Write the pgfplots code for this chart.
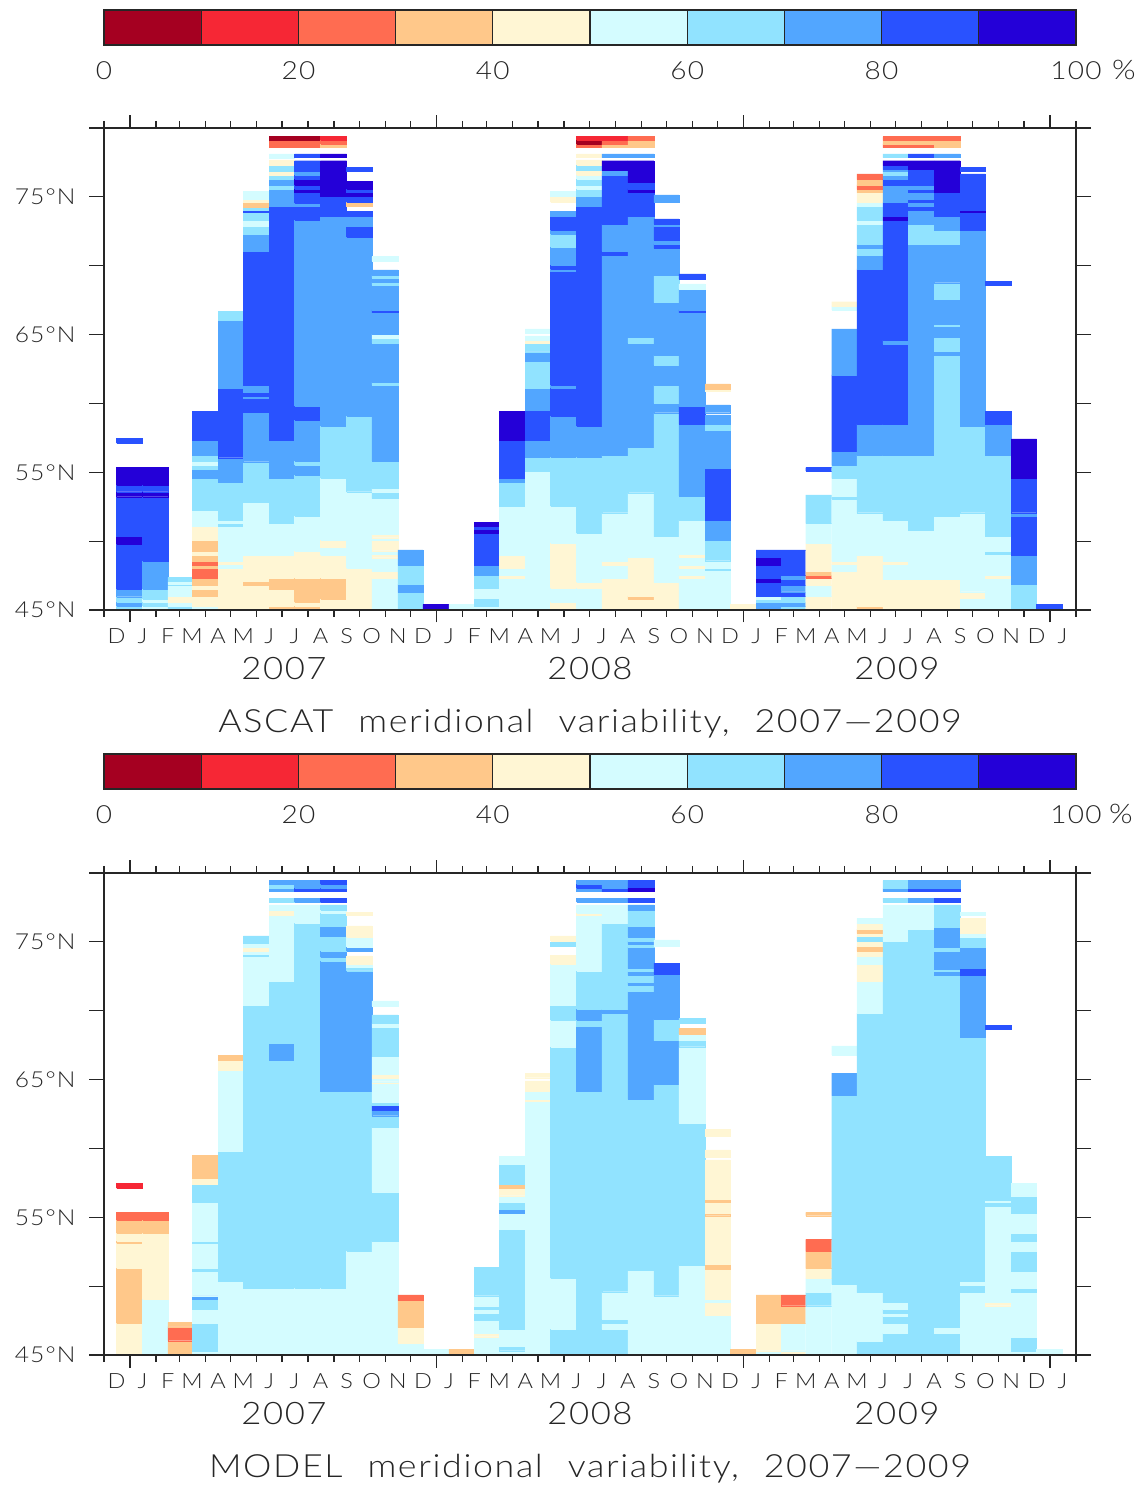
\documentclass[border=0pt]{standalone}
\usepackage{pgfplots}
\pgfplotsset{compat=1.18}
\usepackage{fontspec}
\setmainfont{Liberation Sans}
\newfontfamily\gf{Lato}[UprightFont=* Light,FakeStretch=1.12,LetterSpace=5,WordSpace=2.2]
\definecolor{ink}{HTML}{262626}
\definecolor{c0}{RGB}{165,0,33}
\definecolor{c1}{RGB}{246,39,53}
\definecolor{c2}{RGB}{255,108,81}
\definecolor{c3}{RGB}{255,200,138}
\definecolor{c4}{RGB}{255,246,212}
\definecolor{c5}{RGB}{212,252,255}
\definecolor{c6}{RGB}{145,227,255}
\definecolor{c7}{RGB}{82,166,255}
\definecolor{c8}{RGB}{41,82,255}
\definecolor{c9}{RGB}{36,0,216}
% column edges, days since 1 Dec 2006
\def\Edges{15,46,76,105,136,166,197,227,258,289,319,350,380,411,441,471,502,532,563,593,624,655,685,716,746,777,807,836,867,897,928,958,989,1020,1050,1081,1111,1142}
\makeatletter
\def\Rect#1/#2/#3\relax{%
  \edef\temp{\noexpand\addplot[forget plot,mark=none,fill=c#3,draw=c#3,line width=0.25pt] coordinates {(\xa,#1)(\xb,#1)(\xb,#2)(\xa,#2)(\xa,#1)};}\temp}
\newcommand\Col[2]{%
  \pgfmathsetmacro\xa{{\Edges}[#1]}%
  \pgfmathsetmacro\xb{{\Edges}[#1+1]}%
  \pgfplotsforeachungrouped \rr in {#2}{\expandafter\Rect\rr\relax}}
\newcommand\Bar[3]{\addplot[forget plot,mark=none,fill=c#3,draw=ink,line width=1.2pt] coordinates {(#1,0)(#2,0)(#2,1)(#1,1)(#1,0)};}
\makeatother
\pgfplotsset{
  panel/.style={scale only axis,width=972pt,height=482pt,
    xmin=0,xmax=1158,ymin=45,ymax=80,axis on top,clip=true,
    axis line style={ink,line width=1.3pt},
    tick style={ink,line width=1.2pt},
    tick align=outside,
    xtick={31,396,762,1127},xticklabels={},
    minor xtick={0,62,90,121,151,182,212,243,274,304,335,365,427,456,487,517,548,578,609,640,670,701,731,793,821,852,882,913,943,974,1005,1035,1066,1096,1158},
    major tick length=12.5pt,minor tick length=7pt,
    extra x ticks={15,46,76,105,136,166,197,227,258,289,319,350,380,411,441,471,502,532,563,593,624,655,685,716,746,777,807,836,867,897,928,958,989,1020,1050,1081,1111,1142},
    extra x tick labels={D,J,F,M,A,M,J,J,A,S,O,N,D,J,F,M,A,M,J,J,A,S,O,N,D,J,F,M,A,M,J,J,A,S,O,N,D,J},
    extra x tick style={major tick length=0pt,xticklabel style={font=\gf\fontsize{21}{21}\selectfont,text=ink,yshift=-15pt,anchor=north}},
    ytick=\empty,
    extra y ticks={45,50,55,60,65,70,75,80},
    extra y tick labels={45°N,,55°N,,65°N,,75°N,},
    extra y tick style={major tick length=15pt,yticklabel style={font=\gf\fontsize{22}{22}\selectfont,text=ink,xshift=-10pt}},
  },
  cbar/.style={scale only axis,width=972pt,height=35pt,xmin=0,xmax=100,ymin=0,ymax=1,
    ytick=\empty,xtick={0,20,40,60,80,100},xticklabels={0,20,40,60,80,100},
    major tick length=0pt,axis on top,axis line style={ink,line width=1.2pt},
    xticklabel style={font=\gf\fontsize{25}{25}\selectfont,text=ink,yshift=-13pt,anchor=north}},
}
\newcommand\ColorBar{%
  \Bar{0}{10}{0}\Bar{10}{20}{1}\Bar{20}{30}{2}\Bar{30}{40}{3}\Bar{40}{50}{4}\Bar{50}{60}{5}\Bar{60}{70}{6}\Bar{70}{80}{7}\Bar{80}{90}{8}\Bar{90}{100}{9}}
\begin{document}
\begin{tikzpicture}
\path[use as bounding box] (0,0) rectangle (1139pt,1486pt);
% ---------- colour bars
\begin{axis}[cbar,at={(104pt,1441pt)},anchor=south west]
\ColorBar
\end{axis}
\begin{axis}[cbar,at={(104pt,697pt)},anchor=south west]
\ColorBar
\end{axis}
% ---------- ASCAT
\begin{axis}[panel,at={(104pt,876pt)},anchor=south west]
\Col{0}{45/45.29/6,45.29/45.56/7,45.56/45.97/6,45.97/46.53/7,46.53/49.79/8,49.79/50.33/9,50.33/53.23/8,53.23/53.59/9,53.59/54.08/8,54.08/55.36/9,57.1/57.47/8}
\Col{1}{45/45.29/5,45.29/45.56/6,45.56/45.8/5,45.8/46.53/6,46.53/48.56/7,48.56/53.23/8,53.23/53.59/9,53.59/54.08/8,54.08/55.36/9}
\Col{2}{45/45.29/6,45.29/45.56/5,45.56/46.02/4,46.02/46.77/5,46.77/46.86/6,46.86/47.06/5,47.06/47.37/6}
\Col{3}{45/45.29/5,45.29/46.02/4,46.02/46.53/3,46.53/46.77/4,46.77/47.3/3,47.3/48.03/2,48.03/48.27/3,48.27/48.56/2,48.56/48.99/3,48.99/49.29/4,49.29/50.08/3,50.08/51.1/4,51.1/52.26/5,52.26/54.54/6,54.54/55.24/7,55.24/55.53/6,55.53/55.82/5,55.82/56.26/6,56.26/57.35/7,57.35/59.43/8}
\Col{4}{45/48.03/4,48.03/48.32/5,48.32/48.56/4,48.56/51.1/5,51.1/51.29/6,51.29/51.54/5,51.54/54.27/6,54.27/56.06/7,56.06/61.1/8,61.1/66.06/7,66.06/66.67/6}
\Col{5}{45/46.82/4,46.82/47.06/3,47.06/48.99/4,48.99/52.82/5,52.82/55.77/6,55.77/59.36/7,59.36/60.37/8,60.37/60.54/7,60.54/60.81/8,60.81/61.34/7,61.34/71.07/8,71.07/72.31/7,72.31/72.84/6,72.84/73.28/5,73.28/73.86/6,73.86/74.05/8,74.05/74.25/6,74.25/74.59/3,74.59/74.85/4,74.85/75.41/5}
\Col{6}{45/45.29/3,45.29/46.53/4,46.53/47.3/3,47.3/48.99/4,48.99/51.29/5,51.29/54.56/6,54.56/57.35/7,57.35/74.29/8,74.29/75.58/7,75.58/75.82/6,75.82/76.3/7,76.3/76.55/6,76.55/76.84/4,76.84/77.27/6,77.27/77.68/4,77.8/78.12/5,78.58/79.09/2,79.09/79.38/0}
\Col{7}{45/45.29/3,45.29/45.56/4,45.56/47.3/3,47.3/49.29/4,49.29/51.83/5,51.83/54.81/6,54.81/55.53/7,55.53/55.82/6,55.82/58.8/7,58.8/59.82/8,59.82/73.33/7,73.33/74.29/8,74.29/74.54/7,74.54/75.31/8,75.31/75.58/9,75.58/75.87/8,75.87/76.3/9,76.3/76.59/8,76.59/76.84/7,76.84/77.63/8,77.85/78.12/8,78.58/79.09/2,79.09/79.38/0}
\Col{8}{45/45.8/4,45.8/47.3/3,47.3/48.99/4,48.99/49.53/5,49.53/50.08/4,50.08/54.56/5,54.56/58.36/6,58.36/73.57/7,73.57/75.02/8,75.02/77.63/9,77.85/78.12/9,78.58/78.85/3,78.85/79.14/2,79.14/79.38/1}
\Col{9}{45/48.03/4,48.03/53.59/5,53.59/59.09/6,59.09/72.07/7,72.07/72.84/8,72.84/73.57/7,73.57/73.93/8,74.29/74.59/3,74.59/75.02/8,75.02/75.31/9,75.31/75.58/8,75.58/76.11/9,76.84/77.15/8}
\Col{10}{45/47.3/5,47.3/47.83/4,47.83/48.8/5,48.8/49.04/4,49.04/49.31/5,49.31/50.08/4,50.08/50.25/5,50.25/50.52/4,50.52/53.11/5,53.11/53.59/6,53.59/53.84/5,53.84/55.82/6,55.82/61.34/7,61.34/61.54/6,61.54/64.37/7,64.37/64.73/6,64.73/65.05/5,65.05/66.6/7,66.6/66.79/8,66.79/68.6/7,68.6/68.8/6,68.8/69.09/7,69.09/69.33/6,69.33/69.69/7,70.35/70.66/5}
\Col{11}{45/46.28/6,46.28/46.86/7,46.86/48.27/6,48.27/49.36/7}
\Col{12}{45/45.41/9}
\Col{13}{45/45.41/5}
\Col{14}{45/45.29/5,45.29/45.85/6,45.85/46.57/5,46.57/47.54/6,47.54/48.27/7,48.27/50.57/8,50.57/50.86/9,50.86/51.1/8,51.1/51.37/9}
\Col{15}{45/47.3/5,47.3/47.54/4,47.54/48.03/5,48.03/48.99/4,48.99/52.55/5,52.55/54.27/6,54.27/54.56/7,54.56/57.35/8,57.35/59.43/9}
\Col{16}{45/55.1/5,55.1/56.09/6,56.09/57.35/7,57.35/59.53/8,59.53/61.1/7,61.1/63.08/6,63.08/63.76/7,63.76/64.37/6,64.37/64.61/4,64.61/64.9/5,65.09/65.41/5}
\Col{17}{45/45.56/4,45.56/46.57/5,46.57/49.84/4,49.84/52.55/5,52.55/56.09/6,56.09/59.09/7,59.09/61.1/8,61.1/61.34/7,61.34/69.57/8,69.57/69.77/7,69.77/70.06/8,70.06/71.34/7,71.34/72.31/6,72.31/72.6/7,72.6/73.57/8,73.57/73.93/7,74.59/74.95/4,75.02/75.38/5}
\Col{18}{45/46.57/5,46.57/47.01/4,47.01/50.57/5,50.57/56.09/6,56.09/58.36/7,58.36/74.29/8,74.29/75.02/7,75.02/75.58/6,75.58/75.82/5,75.82/76.3/6,76.3/76.59/5,76.59/76.91/4,76.91/77.32/6,77.32/77.68/4,77.85/78.12/4,78.58/78.85/2,78.85/79.14/0,79.14/79.38/1}
\Col{19}{45/47.3/4,47.3/48.27/5,48.27/48.56/4,48.56/52.07/5,52.07/56.26/6,56.26/70.78/7,70.78/71.07/8,71.07/73.04/7,73.04/76.59/8,76.59/76.91/7,76.91/77.63/9,77.85/78.12/7,78.58/78.85/3,78.85/79.14/2,79.14/79.38/1}
\Col{20}{45/45.8/4,45.8/46.02/3,46.02/48.83/4,48.83/53.52/5,53.52/56.81/6,56.81/64.37/7,64.37/64.78/6,64.78/73.57/7,73.57/75.31/8,75.31/75.58/9,75.58/76.04/8,76.04/77.63/9,77.85/78.12/7,78.58/79.09/3,79.09/79.38/2}
\Col{21}{45/47.01/4,47.01/50.33/5,50.33/59.33/6,59.33/60.01/7,60.01/61.34/6,61.34/62.79/7,62.79/63.52/6,63.52/67.32/7,67.32/69.28/6,69.28/71.27/7,71.27/71.58/8,71.58/71.87/7,71.87/72.84/8,72.84/73.04/7,73.04/73.4/8,74.59/75.14/7}
\Col{22}{45/47.3/5,47.3/47.54/4,47.54/48.03/5,48.03/48.27/4,48.27/48.83/5,48.83/49.04/4,49.04/51.54/5,51.54/53.28/6,53.28/58.51/7,58.51/59.82/8,59.82/66.6/7,66.6/66.79/8,66.79/68.31/7,68.31/68.68/5,69.04/69.4/8}
\Col{23}{45/47.86/5,47.86/48.03/6,48.03/48.58/5,48.58/50.08/6,50.08/51.54/7,51.54/55.29/8,55.29/58.07/7,58.07/58.51/6,58.51/59.16/7,59.33/59.89/7,60.86/61.03/4,61.03/61.41/3}
\Col{24}{45/45.41/4}
\Col{25}{45/45.56/7,45.56/45.8/6,45.8/46.02/5,46.02/47.01/8,47.01/47.3/9,47.3/48.27/8,48.27/48.83/9,48.83/49.36/8}
\Col{26}{45/45.29/6,45.29/45.56/7,45.56/46.02/6,46.02/46.33/8,46.33/46.82/7,46.82/47.25/8,47.25/47.54/7,47.54/49.36/8}
\Col{27}{45/46.02/4,46.02/46.82/5,46.82/47.3/4,47.3/47.54/2,47.54/47.83/3,47.83/49.84/4,49.84/51.29/5,51.29/53.35/6,55.1/55.34/8}
\Col{28}{45/47.83/4,47.83/48.32/5,48.32/48.56/4,48.56/53.06/5,53.06/53.28/6,53.28/54.56/5,54.56/55.53/6,55.53/56.55/7,56.55/62.07/8,62.07/65.41/7,66.79/67.08/5,67.08/67.39/4}
\Col{29}{45/45.29/3,45.29/48.99/4,48.99/52.07/5,52.07/56.26/6,56.26/58.51/7,58.51/69.77/8,69.77/70.78/7,70.78/71.27/6,71.27/71.56/7,71.56/73.04/6,73.04/73.33/5,73.33/74.29/6,74.29/74.59/5,74.59/75.31/4,75.31/75.58/3,75.58/75.87/2,75.87/76.28/3,76.28/76.67/2}
\Col{30}{45/47.25/4,47.25/48.32/5,48.32/48.56/4,48.56/51.54/5,51.54/56.26/6,56.26/58.51/7,58.51/64.32/8,64.32/64.61/7,64.61/73.33/8,73.33/73.57/9,73.57/74.59/8,74.59/75.87/7,75.87/76.28/8,76.28/76.59/7,76.59/76.84/6,76.84/77.0/7,77.0/77.32/8,77.32/77.63/9,77.85/78.12/6,78.58/78.85/2,78.85/79.14/3,79.14/79.38/2}
\Col{31}{45/47.25/4,47.25/50.81/5,50.81/56.26/6,56.26/71.58/7,71.58/73.04/6,73.04/74.05/7,74.05/74.29/8,74.29/74.59/7,74.59/74.85/8,74.85/75.31/7,75.31/75.58/8,75.58/75.87/7,75.87/77.0/8,77.0/77.63/9,77.85/78.12/8,78.58/78.85/2,78.85/79.14/3,79.14/79.38/2}
\Col{32}{45/47.25/4,47.25/51.83/5,51.83/63.52/6,63.52/63.81/7,63.81/64.8/6,64.8/65.58/7,65.58/65.77/6,65.77/67.59/7,67.59/68.77/6,68.77/71.58/7,71.58/72.6/6,72.6/73.57/7,73.57/75.31/8,75.31/77.63/9,77.85/78.12/7,78.58/79.09/3,79.09/79.38/2}
\Col{33}{45/45.85/5,45.85/46.33/4,46.33/52.07/5,52.07/58.36/6,58.36/72.6/7,72.6/73.86/8,73.86/74.05/9,74.05/76.67/8,76.84/77.13/8}
\Col{34}{45/47.3/5,47.3/47.54/4,47.54/49.04/5,49.04/49.29/6,49.29/50.33/5,50.33/56.26/6,56.26/58.51/7,58.51/59.41/8,68.6/68.87/8}
\Col{35}{45/46.86/6,46.86/48.99/7,48.99/51.83/8,51.83/52.07/7,52.07/54.56/8,54.56/57.42/9}
\Col{36}{45/45.39/8}
\end{axis}
% ---------- MODEL
\begin{axis}[panel,at={(104pt,131pt)},anchor=south west]
\Col{0}{45/47.3/4,47.3/51.29/3,51.29/53.11/4,53.11/53.28/3,53.28/53.84/4,53.84/54.81/3,54.81/55.36/2,57.1/57.47/1}
\Col{1}{45/49.04/5,49.04/53.84/4,53.84/54.81/3,54.81/55.36/2}
\Col{2}{45/45.92/3,46.04/47.06/2,47.06/47.37/3}
\Col{3}{45/45.29/5,45.29/47.3/6,47.3/48.32/5,48.32/49.04/6,49.04/49.31/7,49.31/51.1/5,51.1/51.29/6,51.29/53.11/5,53.11/53.28/6,53.28/56.09/5,56.09/57.4/6,57.4/57.83/4,57.83/59.48/3}
\Col{4}{45/50.33/5,50.33/59.84/6,59.84/65.65/5,65.65/66.38/4,66.38/66.74/3}
\Col{5}{45/49.84/5,49.84/70.37/6,70.37/73.93/5,73.93/74.12/6,74.12/74.34/5,74.34/74.61/4,74.61/74.88/5,74.88/75.43/6}
\Col{6}{45/49.84/5,49.84/66.38/6,66.38/67.64/7,67.64/72.12/6,72.12/76.91/5,76.91/77.32/4,77.32/77.68/5,77.88/78.17/6,78.65/78.89/7,78.89/79.18/6,79.18/79.45/7}
\Col{7}{45/49.84/5,49.84/76.35/6,76.35/77.68/5,77.88/78.17/7,78.65/78.89/8,78.89/79.45/7}
\Col{8}{45/49.84/5,49.84/64.13/6,64.13/73.62/7,73.62/73.88/6,73.88/74.34/7,74.34/75.38/6,75.38/76.11/7,76.11/77.08/6,77.08/77.32/5,77.32/77.68/6,77.88/78.17/8,78.65/78.89/8,78.89/79.18/7,79.18/79.45/8}
\Col{9}{45/52.55/5,52.55/64.13/6,64.13/72.91/7,72.91/73.13/6,73.13/73.4/5,73.4/73.98/4,74.34/74.61/7,74.61/75.34/5,75.34/76.16/4,76.91/77.15/4}
\Col{10}{45/53.28/5,53.28/56.86/6,56.86/61.54/5,61.54/62.38/6,62.38/62.79/7,62.79/63.11/8,63.11/63.35/6,63.35/64.73/5,64.73/64.85/4,64.85/65.09/5,65.09/65.38/4,65.38/66.67/5,66.67/68.8/6,68.8/69.09/5,69.09/69.69/6,70.35/70.71/5}
\Col{11}{45/45.85/5,45.85/47.01/4,47.01/48.99/3,48.99/49.36/2}
\Col{12}{45/45.41/5}
\Col{13}{45/45.41/3}
\Col{14}{45/46.33/5,46.33/46.57/4,46.57/47.54/5,47.54/48.03/6,48.03/48.32/5,48.32/48.58/6,48.58/49.31/5,49.31/51.37/6}
\Col{15}{45/45.31/5,45.31/45.61/6,45.61/46.89/5,46.89/54.13/6,54.13/55.29/5,55.29/55.58/7,55.58/56.09/6,56.09/56.57/5,56.57/57.1/4,57.1/57.4/3,57.4/58.85/6,58.85/59.45/5}
\Col{16}{45/63.4/5,63.4/63.57/4,63.57/64.13/5,64.13/64.9/4,65.14/65.46/4}
\Col{17}{45/46.86/6,46.86/50.57/5,50.57/67.39/6,67.39/69.33/5,69.33/70.37/6,70.37/73.37/5,73.37/74.0/4,74.66/74.97/6,75.07/75.43/4}
\Col{18}{45/64.13/6,64.13/68.85/7,68.85/69.33/6,69.33/70.11/7,70.11/72.91/6,72.91/76.91/5,76.91/77.08/4,77.08/77.68/5,77.88/78.17/7,78.65/78.89/7,78.89/79.18/8,79.18/79.45/7}
\Col{19}{45/46.86/6,46.86/47.3/5,47.3/47.61/6,47.61/49.6/5,49.6/69.82/6,69.82/70.11/7,70.11/76.35/6,76.35/77.68/5,77.88/78.17/7,78.65/78.89/8,78.89/79.45/7}
\Col{20}{45/51.13/5,51.13/63.57/6,63.57/71.39/7,71.39/71.87/6,71.87/72.07/7,72.07/72.6/6,72.6/72.84/7,72.84/73.08/6,73.08/74.61/7,74.61/74.85/6,74.85/75.07/7,75.07/75.36/6,75.36/76.11/7,76.11/77.32/6,77.32/77.68/7,77.88/78.17/8,78.65/78.94/9,78.94/79.45/8}
\Col{21}{45/49.31/5,49.31/64.66/6,64.66/67.83/7,67.83/69.38/6,69.38/72.65/7,72.65/73.45/8,74.66/75.14/5}
\Col{22}{45/51.54/5,51.54/61.83/6,61.83/67.39/5,67.39/67.83/6,67.83/68.31/5,68.31/68.73/3,69.09/69.45/6}
\Col{23}{45/47.86/5,47.86/48.83/4,48.83/49.04/5,49.04/51.25/4,51.25/51.59/3,51.59/55.12/4,55.12/55.31/3,55.31/56.09/4,56.09/56.31/3,56.31/59.16/4,59.36/59.89/4,60.86/61.41/4}
\Col{24}{45/45.41/3}
\Col{25}{45/45.31/5,45.31/47.3/4,47.3/49.36/3}
\Col{26}{45/45.31/4,45.31/47.3/5,47.3/48.58/3,48.58/49.36/2}
\Col{27}{45/48.58/5,48.58/49.55/6,49.55/50.57/5,50.57/51.29/4,51.29/52.55/3,52.55/53.4/2,55.12/55.36/3}
\Col{28}{45/50.13/5,50.13/63.84/6,63.84/65.46/7,66.79/67.44/5}
\Col{29}{45/46.02/6,46.02/49.55/5,49.55/69.82/6,69.82/72.12/5,72.12/73.37/4,73.37/73.93/5,73.93/74.34/4,74.34/74.66/3,74.66/75.07/4,75.07/75.38/6,75.38/75.63/4,75.63/75.92/3,75.92/76.35/4,76.35/76.71/5}
\Col{30}{45/46.57/6,46.57/47.3/5,47.3/47.83/6,47.83/48.03/5,48.03/48.34/6,48.34/48.85/5,48.85/75.07/6,75.07/77.68/5,77.88/78.17/6,78.65/78.89/7,78.89/79.45/6}
\Col{31}{45/75.92/6,75.92/77.68/5,77.88/78.17/7,78.65/78.89/8,78.89/79.45/7}
\Col{32}{45/46.57/6,46.57/47.01/5,47.01/72.6/6,72.6/72.84/7,72.84/73.04/6,73.04/74.34/7,74.34/74.61/6,74.61/76.06/7,76.06/77.68/6,77.88/78.17/8,78.65/78.89/8,78.89/79.45/7}
\Col{33}{45/49.55/5,49.55/50.08/6,50.08/50.33/5,50.33/68.1/6,68.1/72.6/7,72.6/73.08/8,73.08/74.61/7,74.61/75.34/6,75.34/75.63/5,75.63/76.71/4,76.91/77.15/5}
\Col{34}{45/48.58/5,48.58/48.83/4,48.83/55.82/5,55.82/56.09/6,56.09/56.26/5,56.26/59.45/6,68.65/68.92/8}
\Col{35}{45/45.29/5,45.29/46.28/6,46.28/49.55/5,49.55/49.84/6,49.84/51.1/5,51.1/52.55/6,52.55/53.28/5,53.28/53.84/6,53.84/55.29/5,55.29/56.57/6,56.57/57.47/5}
\Col{36}{45/45.41/5}
\end{axis}
% ---------- texts
\node[font=\gf\fontsize{27}{27}\selectfont,text=ink] at (1124pt,1416pt) {\%};
\node[font=\gf\fontsize{27}{27}\selectfont,text=ink] at (1121pt,672pt) {\%};
\foreach \x/\y in {284/2007,590/2008,897/2009}{
  \node[font=\gf\fontsize{31}{31}\selectfont,text=ink] at (\x pt,817pt) {\y};
  \node[font=\gf\fontsize{31}{31}\selectfont,text=ink] at (\x pt,72pt) {\y};
}
\node[font=\gf\fontsize{32}{32}\selectfont,text=ink] at (590pt,762pt) {ASCAT meridional variability, 2007—2009};
\node[font=\gf\fontsize{32}{32}\selectfont,text=ink] at (590pt,17pt) {MODEL meridional variability, 2007—2009};
\end{tikzpicture}
\end{document}
